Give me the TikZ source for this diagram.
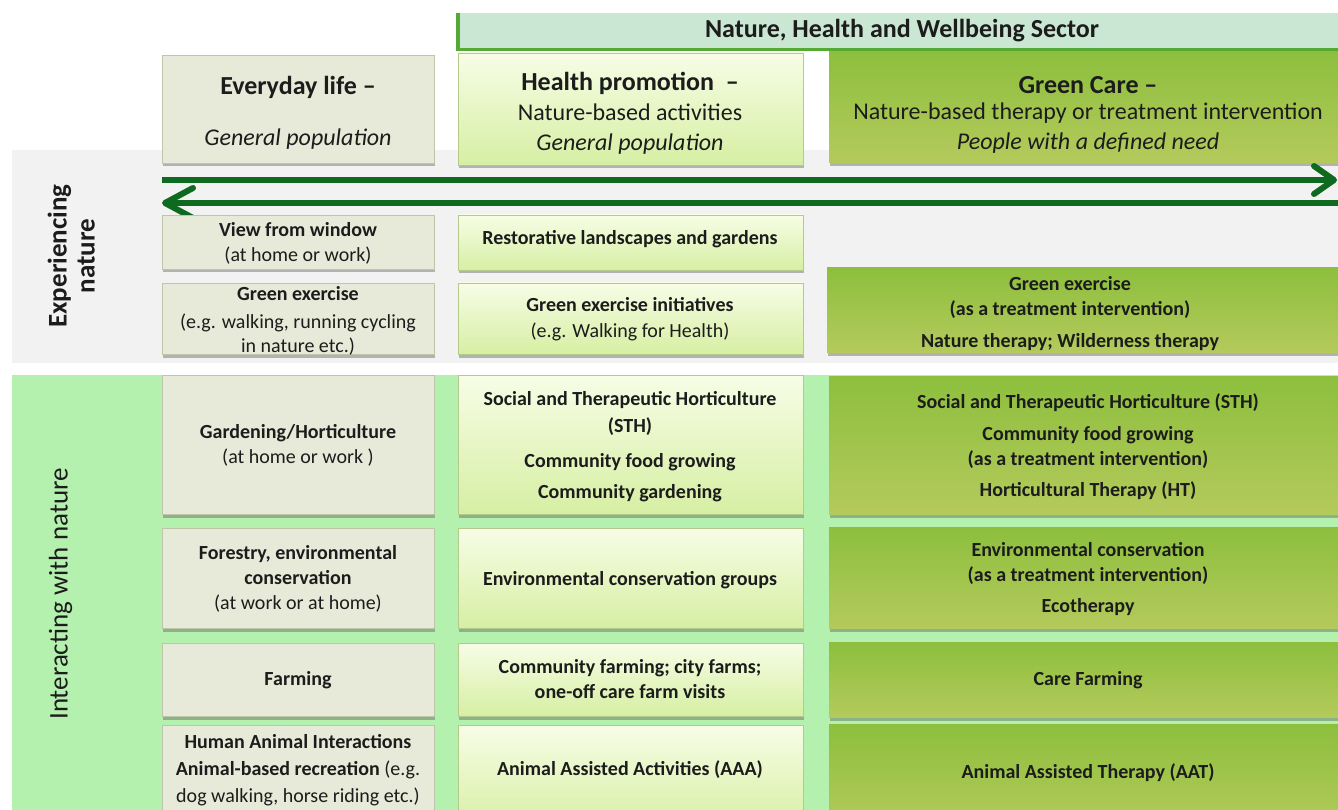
\documentclass[tikz,border=0pt]{standalone}
\usepackage{fontspec}
\setmainfont{Carlito}
\usetikzlibrary{arrows.meta,shadows}

\definecolor{bandgray}{HTML}{F2F2F2}
\definecolor{bandgreen}{HTML}{B5F1AE}
\definecolor{sectorfill}{HTML}{C9E7D3}
\definecolor{sectorline}{HTML}{55A935}
\definecolor{flowgreen}{HTML}{0E6A1E}
\definecolor{lifefill}{HTML}{E8EAD9}
\definecolor{lifeline}{HTML}{BFC5A8}
\definecolor{promotop}{HTML}{F7FDE6}
\definecolor{promobot}{HTML}{D6EFA3}
\definecolor{promoline}{HTML}{B5C98A}
\definecolor{caretop}{HTML}{8DBF3D}
\definecolor{carebot}{HTML}{B4CA5C}
\definecolor{inkcol}{HTML}{1C1C1C}

\newcommand\hdrfont{\fontsize{24}{30}\selectfont}
\newcommand\titlefont{\fontsize{26}{30}\selectfont\bfseries}
\newcommand\cellfont{\fontsize{20}{25}\selectfont}
\newcommand\sidefont{\fontsize{27}{28}\selectfont}

\begin{document}
\begin{tikzpicture}[x=1pt,y=-1pt,
  boxshadow/.style={drop shadow={shadow xshift=1pt,shadow yshift=-3.5pt,opacity=0.38,fill=black!70}},
  lifebox/.style={fill=lifefill,draw=lifeline,line width=0.8pt,boxshadow},
  promobox/.style={top color=promotop,bottom color=promobot,draw=promoline,line width=0.8pt,boxshadow},
  carebox/.style={top color=caretop,bottom color=carebot,draw=none,boxshadow},
  cell/.style={inner sep=0pt,align=center,text=inkcol,font=\cellfont},
  hdr/.style={inner sep=0pt,align=center,text=inkcol,font=\hdrfont},
  side/.style={inner sep=0pt,align=center,text=inkcol,font=\sidefont,rotate=90},
  flow/.style={draw=flowgreen,line width=6pt}
]
\path[use as bounding box,clip] (0,0) rectangle (1338,810);
\fill[white] (0,0) rectangle (1338,810);

% background bands for the two row groups
\fill[bandgray] (12,150) rectangle (1350,363);
\fill[bandgreen] (12,375) rectangle (1350,820);

% sector banner
\fill[sectorfill] (456,13) rectangle (1350,51);
\draw[sectorline,line width=3.5pt,line join=miter] (457.75,13) -- (457.75,49.75) -- (1350,49.75);
\node[hdr,font=\titlefont] (sector) at (902,31) {Nature, Health and Wellbeing Sector};

% column headers
\path[lifebox]  (162,55) rectangle (434,163);
\path[promobox] (458,53) rectangle (803,165);
\path[carebox]  (829,52) rectangle (1350,163);

\node[hdr] (hdrlife) at (298,114.5) {\strut{\titlefont Everyday life –}\\[21pt]\strut{\itshape General population}};
\node[hdr] (hdrpromo) at (630,115) {\strut{\titlefont Health promotion~~–}\\\strut Nature-based activities\\\strut{\itshape General population}};
\node[hdr] (hdrcare) at (1088,116) {\strut{\titlefont Green Care –}\\[-4pt]\strut Nature-based therapy or treatment intervention\\\strut{\itshape People with a defined need}};

% two-way spectrum arrows
\coordinate (fwdstart) at (162,180);
\coordinate (fwdend) at (1337,180);
\coordinate (backstart) at (1350,203);
\coordinate (backend) at (162,203);
\draw[flow,-{Straight Barb[length=20pt,width=28pt,round]}] (fwdstart) -- (fwdend);
\draw[flow,-{Straight Barb[length=28pt,width=30pt,round]}] (backstart) -- (backend);

% row group labels
\node[side,font=\sidefont\bfseries] (experiencing) at (75,256) {\strut Experiencing\\\strut nature};
\node[side] (interacting) at (62,594) {\strut Interacting with nature};

% everyday life column
\path[lifebox] (162,215) rectangle (434,269);
\path[lifebox] (162,283) rectangle (434,354);
\path[lifebox] (162,375) rectangle (434,514);
\path[lifebox] (162,528) rectangle (434,628);
\path[lifebox] (162,643) rectangle (434,716);
\path[lifebox] (162,725) rectangle (434,830);

\node[cell] (window) at (298,244.5) {\strut{\bfseries View from window}\\\strut(at home or work)};
\node[cell] (exercise) at (298,321) {\strut{\bfseries Green exercise}\\[3pt]\strut(e.g. walking, running cycling\\[-1pt]\strut in nature etc.)};
\node[cell] (gardening) at (298,446) {\strut{\bfseries Gardening/Horticulture}\\\strut(at home or work )};
\node[cell] (forestry) at (298,579) {\strut{\bfseries Forestry, environmental}\\\strut{\bfseries conservation}\\\strut(at work or at home)};
\node[cell] (farming) at (298,680) {\strut{\bfseries Farming}};
\node[cell] (animals) at (298,770) {\strut{\bfseries Human Animal Interactions}\\[2pt]\strut{\bfseries Animal-based recreation} (e.g.\\[2pt]\strut dog walking, horse riding etc.)};

% health promotion column
\path[promobox] (458,215) rectangle (803,270);
\path[promobox] (458,283) rectangle (803,354);
\path[promobox] (458,375) rectangle (803,514);
\path[promobox] (458,528) rectangle (803,628);
\path[promobox] (458,643) rectangle (803,716);
\path[promobox] (458,725) rectangle (803,830);

\node[cell] (restorative) at (630,240) {\strut{\bfseries Restorative landscapes and gardens}};
\node[cell] (initiatives) at (630,319.5) {\strut{\bfseries Green exercise initiatives}\\\strut(e.g. Walking for Health)};
\node[cell,font=\cellfont\bfseries] (sthpromo) at (630,446.5) {\strut Social and Therapeutic Horticulture\\[2pt]\strut(STH)\\[10pt]\strut Community food growing\\[6pt]\strut Community gardening};
\node[cell,font=\cellfont\bfseries] (congroups) at (630,580) {\strut Environmental conservation groups};
\node[cell,font=\cellfont\bfseries] (cityfarms) at (630,680.5) {\strut Community farming; city farms;\\\strut one-off care farm visits};
\node[cell,font=\cellfont\bfseries] (aaa) at (630,770) {\strut Animal Assisted Activities (AAA)};

% green care column
\path[carebox] (827,268) rectangle (1350,352);
\path[carebox] (829,376) rectangle (1350,514);
\path[carebox] (829,527) rectangle (1350,628);
\path[carebox] (829,642) rectangle (1350,717);
\path[carebox] (829,724) rectangle (1350,830);

\node[cell,font=\cellfont\bfseries] (exercisecare) at (1070,313.5) {\strut Green exercise\\\strut(as a treatment intervention)\\[7pt]\strut Nature therapy; Wilderness therapy};
\node[cell,font=\cellfont\bfseries] (sthcare) at (1088,447) {\strut Social and Therapeutic Horticulture (STH)\\[7pt]\strut Community food growing\\\strut(as a treatment intervention)\\[6pt]\strut Horticultural Therapy (HT)};
\node[cell,font=\cellfont\bfseries] (ecotherapy) at (1088,579) {\strut Environmental conservation\\\strut(as a treatment intervention)\\[6pt]\strut Ecotherapy};
\node[cell,font=\cellfont\bfseries] (carefarming) at (1088,680) {\strut Care Farming};
\node[cell,font=\cellfont\bfseries] (aat) at (1088,773) {\strut Animal Assisted Therapy (AAT)};
\end{tikzpicture}
\end{document}
